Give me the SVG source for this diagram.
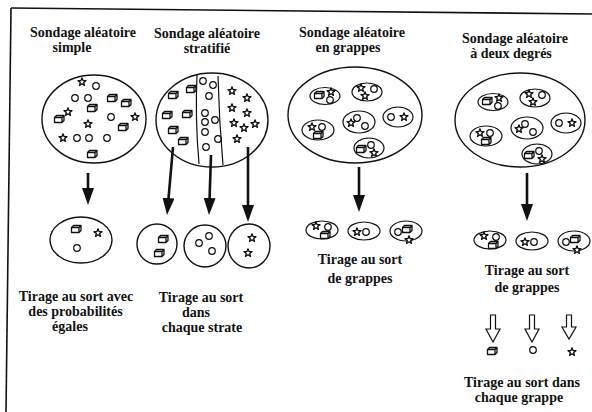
<svg xmlns="http://www.w3.org/2000/svg" width="592" height="412" viewBox="0 0 592 412">
<defs>
<marker id="ah" viewBox="0 0 17 12" refX="6" refY="6" markerWidth="17" markerHeight="12" markerUnits="userSpaceOnUse" orient="auto">
<path d="M0,0 L17,6 L0,12 z" fill="#111"/>
</marker>
<path id="star" fill="#fff" stroke="#111" stroke-width="1.3" stroke-linejoin="round" d="M0,-4.2 L1.04,-1.43 L4,-1.3 L1.68,0.54 L2.47,3.4 L0,1.77 L-2.47,3.4 L-1.68,0.54 L-4,-1.3 L-1.04,-1.43 Z"/>
<circle id="dot" fill="none" stroke="#111" stroke-width="1.2" r="3.3"/>
<path id="box" fill="#fff" stroke="#111" stroke-width="1.3" stroke-linejoin="round" d="M-4.5,-1.5 L3,-1.5 L3,3.5 L-4.5,3.5 Z M-4.5,-1.5 L-2.5,-3.5 L5,-3.5 L5,1.5 L3,3.5 M3,-1.5 L5,-3.5"/>
<g id="clusters" fill="none" stroke="#111" stroke-width="1.2">
<ellipse cx="325" cy="96" rx="15" ry="8.5"/>
<use href="#box" x="319" y="95"/><use href="#star" x="331" y="92"/><use href="#dot" x="330" y="100"/>
<ellipse cx="367" cy="92" rx="15" ry="9"/>
<use href="#star" x="361" y="88"/><use href="#star" x="365" y="96"/><use href="#dot" x="374" y="89"/>
<ellipse cx="398" cy="117" rx="15" ry="10"/>
<use href="#dot" x="391" y="117"/><use href="#star" x="404" y="117"/>
<ellipse cx="359" cy="122" rx="16" ry="11"/>
<use href="#star" x="351" y="123"/><use href="#dot" x="357" y="118"/><use href="#dot" x="365" y="126"/>
<ellipse cx="318" cy="130" rx="16" ry="10"/>
<use href="#star" x="312" y="127"/><use href="#dot" x="322" y="127"/><use href="#box" x="318" y="135"/>
<ellipse cx="369" cy="148" rx="15" ry="10"/>
<use href="#box" x="361" y="149"/><use href="#dot" x="371" y="145"/><use href="#star" x="374" y="153"/>
</g>
<g id="picked" fill="none" stroke="#111" stroke-width="1.2">
<ellipse cx="322" cy="230" rx="16" ry="9"/>
<use href="#star" x="316" y="226"/><use href="#dot" x="328" y="227"/><use href="#box" x="325" y="235"/>
<ellipse cx="364" cy="231" rx="16" ry="9"/>
<use href="#star" x="357" y="232"/><use href="#dot" x="366" y="232"/>
<ellipse cx="406" cy="231" rx="16" ry="10"/>
<use href="#dot" x="398" y="232"/><use href="#box" x="407" y="229"/><use href="#star" x="409" y="240"/>
</g>
</defs>

<g id="frame" stroke="#111" stroke-width="1.6" fill="none">
<path d="M11,8 L592,14"/>
<path d="M11,8 L6,412"/>
</g>

<g id="simple">
<text x="83" y="37" font-family="Liberation Serif, DejaVu Serif, serif" style="font-family:'Liberation Serif',serif;font-weight:bold;font-size:14px;text-anchor:middle;fill:#111">Sondage aléatoire</text>
<text x="72" y="52" font-family="Liberation Serif, DejaVu Serif, serif" style="font-family:'Liberation Serif',serif;font-weight:bold;font-size:14px;text-anchor:middle;fill:#111">simple</text>
<ellipse fill="none" stroke="#111" stroke-width="1.4" cx="94" cy="119" rx="52" ry="44"/>
<use href="#star" x="82" y="82"/><use href="#dot" x="96" y="86"/>
<use href="#dot" x="75" y="98"/><use href="#dot" x="88" y="98"/>
<use href="#box" x="112" y="98"/><use href="#box" x="126" y="103"/>
<use href="#box" x="92" y="108"/><use href="#star" x="68" y="112"/>
<use href="#box" x="59" y="119"/><use href="#dot" x="111" y="117"/>
<use href="#star" x="135" y="117"/><use href="#star" x="88" y="124"/>
<use href="#box" x="123" y="127"/><use href="#star" x="63" y="138"/>
<use href="#dot" x="77" y="138"/><use href="#dot" x="89" y="138"/>
<use href="#dot" x="107" y="138"/><use href="#box" x="92" y="154"/>
</g>

<g id="simple-sample">
<ellipse fill="none" stroke="#111" stroke-width="1.4" cx="81" cy="240" rx="31" ry="23"/>
<use href="#box" x="76" y="229"/><use href="#star" x="98" y="233"/><use href="#dot" x="77" y="248"/>
<text x="76" y="301" font-family="Liberation Serif, DejaVu Serif, serif" style="font-family:'Liberation Serif',serif;font-weight:bold;font-size:14px;text-anchor:middle;fill:#111">Tirage au sort avec</text>
<text x="75.5" y="316" font-family="Liberation Serif, DejaVu Serif, serif" style="font-family:'Liberation Serif',serif;font-weight:bold;font-size:14px;text-anchor:middle;fill:#111">des probabilités</text>
<text x="70" y="331" font-family="Liberation Serif, DejaVu Serif, serif" style="font-family:'Liberation Serif',serif;font-weight:bold;font-size:14px;text-anchor:middle;fill:#111">égales</text>
</g>

<g id="stratified">
<text x="207" y="38" font-family="Liberation Serif, DejaVu Serif, serif" style="font-family:'Liberation Serif',serif;font-weight:bold;font-size:14px;text-anchor:middle;fill:#111">Sondage aléatoire</text>
<text x="207" y="53" font-family="Liberation Serif, DejaVu Serif, serif" style="font-family:'Liberation Serif',serif;font-weight:bold;font-size:14px;text-anchor:middle;fill:#111">stratifié</text>
<ellipse fill="none" stroke="#111" stroke-width="1.4" cx="212" cy="120" rx="56" ry="47"/>
<path fill="none" stroke="#111" stroke-width="1.2" d="M197,74 Q195,118 199,164"/>
<path fill="none" stroke="#111" stroke-width="1.2" d="M218,76 Q219,120 223,165"/>
<use href="#box" x="191" y="89"/><use href="#box" x="173" y="95"/>
<use href="#box" x="167" y="115"/><use href="#box" x="187" y="114"/>
<use href="#box" x="173" y="130"/><use href="#box" x="183" y="141"/>
<use href="#dot" x="203" y="81"/><use href="#dot" x="213" y="85"/>
<use href="#dot" x="209" y="96"/><use href="#dot" x="205" y="113"/>
<use href="#dot" x="215" y="120"/><use href="#dot" x="205" y="122"/>
<use href="#dot" x="205" y="132"/><use href="#dot" x="218" y="139"/>
<use href="#dot" x="206" y="147"/>
<use href="#star" x="232" y="91"/><use href="#star" x="247" y="98"/>
<use href="#star" x="232" y="108"/><use href="#star" x="247" y="113"/>
<use href="#star" x="234" y="123"/><use href="#star" x="244" y="128"/>
<use href="#star" x="255" y="124"/><use href="#star" x="237" y="139"/>
</g>

<g id="stratified-sample">
<circle fill="none" stroke="#111" stroke-width="1.4" cx="157" cy="244" r="20"/>
<use href="#box" x="163" y="239"/><use href="#box" x="159" y="253"/>
<circle fill="none" stroke="#111" stroke-width="1.4" cx="205" cy="246" r="21"/>
<use href="#dot" x="199" y="243"/><use href="#dot" x="209" y="236"/><use href="#dot" x="212" y="251"/>
<ellipse fill="none" stroke="#111" stroke-width="1.4" cx="249" cy="246" rx="21" ry="22"/>
<use href="#star" x="252" y="238"/><use href="#star" x="248" y="253"/>
<text x="201" y="302" font-family="Liberation Serif, DejaVu Serif, serif" style="font-family:'Liberation Serif',serif;font-weight:bold;font-size:14px;text-anchor:middle;fill:#111">Tirage au sort</text>
<text x="196" y="317" font-family="Liberation Serif, DejaVu Serif, serif" style="font-family:'Liberation Serif',serif;font-weight:bold;font-size:14px;text-anchor:middle;fill:#111">dans</text>
<text x="202" y="332" font-family="Liberation Serif, DejaVu Serif, serif" style="font-family:'Liberation Serif',serif;font-weight:bold;font-size:14px;text-anchor:middle;fill:#111">chaque strate</text>
</g>

<g id="cluster">
<text x="352" y="37" font-family="Liberation Serif, DejaVu Serif, serif" style="font-family:'Liberation Serif',serif;font-weight:bold;font-size:14px;text-anchor:middle;fill:#111">Sondage aléatoire</text>
<text x="348" y="52" font-family="Liberation Serif, DejaVu Serif, serif" style="font-family:'Liberation Serif',serif;font-weight:bold;font-size:14px;text-anchor:middle;fill:#111">en grappes</text>
<ellipse fill="none" stroke="#111" stroke-width="1.4" cx="355" cy="115" rx="67" ry="48"/>
<use href="#clusters"/>
</g>

<g id="cluster-sample">
<use href="#picked"/>
<text x="360" y="264" font-family="Liberation Serif, DejaVu Serif, serif" style="font-family:'Liberation Serif',serif;font-weight:bold;font-size:14px;text-anchor:middle;fill:#111">Tirage au sort</text>
<text x="360" y="283" font-family="Liberation Serif, DejaVu Serif, serif" style="font-family:'Liberation Serif',serif;font-weight:bold;font-size:14px;text-anchor:middle;fill:#111">de grappes</text>
</g>

<g id="two-stage">
<text x="515" y="43" font-family="Liberation Serif, DejaVu Serif, serif" style="font-family:'Liberation Serif',serif;font-weight:bold;font-size:14px;text-anchor:middle;fill:#111">Sondage aléatoire</text>
<text x="511" y="58" font-family="Liberation Serif, DejaVu Serif, serif" style="font-family:'Liberation Serif',serif;font-weight:bold;font-size:14px;text-anchor:middle;fill:#111">à deux degrés</text>
<ellipse fill="none" stroke="#111" stroke-width="1.4" cx="520" cy="120" rx="65" ry="47"/>
<use href="#clusters" transform="translate(168,6)"/>
</g>

<g id="two-stage-sample">
<use href="#picked" transform="translate(168,10)"/>
<text x="527" y="275" font-family="Liberation Serif, DejaVu Serif, serif" style="font-family:'Liberation Serif',serif;font-weight:bold;font-size:14px;text-anchor:middle;fill:#111">Tirage au sort</text>
<text x="527" y="292" font-family="Liberation Serif, DejaVu Serif, serif" style="font-family:'Liberation Serif',serif;font-weight:bold;font-size:14px;text-anchor:middle;fill:#111">de grappes</text>
</g>

<g id="two-stage-units">
<use href="#box" x="492" y="351"/><use href="#dot" x="533" y="350"/><use href="#star" x="572" y="352"/>
<text x="522" y="387" font-family="Liberation Serif, DejaVu Serif, serif" style="font-family:'Liberation Serif',serif;font-weight:bold;font-size:14px;text-anchor:middle;fill:#111">Tirage au sort dans</text>
<text x="519" y="402" font-family="Liberation Serif, DejaVu Serif, serif" style="font-family:'Liberation Serif',serif;font-weight:bold;font-size:14px;text-anchor:middle;fill:#111">chaque grappe</text>
</g>

<g id="connectors">
<g stroke="#111" stroke-width="2.6" fill="none" marker-end="url(#ah)">
<line x1="88" y1="173" x2="88" y2="194"/>
<line x1="173" y1="147" x2="168" y2="204"/>
<line x1="211" y1="155" x2="209.4" y2="204"/>
<line x1="248" y1="147" x2="248" y2="211"/>
<line x1="359" y1="167" x2="359" y2="201"/>
<line x1="527" y1="173" x2="527" y2="210"/>
</g>
<g fill="#fff" stroke="#111" stroke-width="1.2">
<path d="M490.5,315 h5 v14 h4.5 l-7,13 l-7,-13 h4.5 z"/>
<path d="M529.5,315 h5 v14 h4.5 l-7,13 l-7,-13 h4.5 z"/>
<path d="M566.5,315 h5 v12 h4.5 l-7,12 l-7,-12 h4.5 z"/>
</g>
</g>
</svg>
